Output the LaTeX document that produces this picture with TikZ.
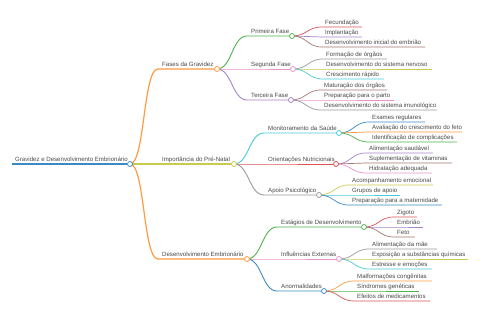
\documentclass[tikz,border=0pt]{standalone}
\usepackage{fontspec}
\setmainfont{Liberation Sans}
\usetikzlibrary{backgrounds}
\definecolor{cBlue}{HTML}{3C8AC4}
\definecolor{cOrange}{HTML}{FF9A40}
\definecolor{cGreen}{HTML}{4DB34D}
\definecolor{cRed}{HTML}{DE5253}
\definecolor{cPurple}{HTML}{A585CA}
\definecolor{cBrown}{HTML}{A3786F}
\definecolor{cPink}{HTML}{E993CE}
\definecolor{cGray}{HTML}{999999}
\definecolor{cOlive}{HTML}{C9CA4E}
\definecolor{cCyan}{HTML}{45CBD9}
\tikzset{
    lbl/.style = {anchor=base west, inner sep=0pt, font=\fontsize{6.1}{7}\selectfont, text=black!72},
    dot/.style = {circle, draw=#1, fill=white, minimum size=5pt, inner sep=0pt, line width=0.8pt},
    curve/.style = {to path={.. controls +(15,0) and +(-15,0) .. (\tikztotarget)}},
    rootline/.style = {draw=#1, line width=1.5pt},
    mainline/.style = {draw=#1, line width=1.2pt},
    subline/.style = {draw=#1, line width=0.9pt},
    leaf/.style = {draw=#1, line width=0.7pt}
}

\begin{document}
\begin{tikzpicture}[x=1pt, y=-1pt]
    \useasboundingbox (0,0) rectangle (480,320);

    % root
    \coordinate (R0) at (12,164);
    \node[dot=cBlue] (R) at (130,164) {};
    \node[lbl] (Rt) at (15,162) {Gravidez e Desenvolvimento Embrionário};

    % first level
    \coordinate (A0) at (158,69);
    \node[dot=cOrange] (A) at (217,69) {};
    \node[lbl] (At) at (162,67) {Fases da Gravidez};
    \coordinate (B0) at (158,164);
    \node[dot=cOlive] (B) at (234,164) {};
    \node[lbl] (Bt) at (162,162) {Importância do Pré-Natal};
    \coordinate (C0) at (158,259);
    \node[dot=cOrange] (C) at (247,259) {};
    \node[lbl] (Ct) at (162,257) {Desenvolvimento Embrionário};

    % second level
    \coordinate (A10) at (247,36);
    \node[dot=cGreen] (A1) at (292,36) {};
    \node[lbl] (A1t) at (251,34) {Primeira Fase};
    \coordinate (A20) at (247,69);
    \node[dot=cPink] (A2) at (293,69) {};
    \node[lbl] (A2t) at (251,67) {Segunda Fase};
    \coordinate (A30) at (247,100);
    \node[dot=cPurple] (A3) at (291,100) {};
    \node[lbl] (A3t) at (251,98) {Terceira Fase};

    \coordinate (B10) at (264,133);
    \node[dot=cCyan] (B1) at (339,133) {};
    \node[lbl] (B1t) at (268,131) {Monitoramento da Saúde};
    \coordinate (B20) at (264,164);
    \node[dot=cRed] (B2) at (336,164) {};
    \node[lbl] (B2t) at (268,162) {Orientações Nutricionais};
    \coordinate (B30) at (264,195);
    \node[dot=cGray] (B3) at (319,195) {};
    \node[lbl] (B3t) at (268,193) {Apoio Psicológico};

    \coordinate (C10) at (277,227);
    \node[dot=cGreen] (C1) at (364,227) {};
    \node[lbl] (C1t) at (281,225) {Estágios de Desenvolvimento};
    \coordinate (C20) at (277,259);
    \node[dot=cPink] (C2) at (339,259) {};
    \node[lbl] (C2t) at (281,257) {Influências Externas};
    \coordinate (C30) at (277,291);
    \node[dot=cBlue] (C3) at (324,291) {};
    \node[lbl] (C3t) at (281,289) {Anormalidades};

    \begin{scope}[on background layer]
        \draw[rootline=cBlue] (R0) -- (R);
        \draw[mainline=cOrange] (R.center) to[curve] (A0) -- (A);
        \draw[mainline=cOlive] (R.center) to[curve] (B0) -- (B);
        \draw[mainline=cOrange] (R.center) to[curve] (C0) -- (C);
        \draw[subline=cGreen] (A.center) to[curve] (A10) -- (A1);
        \draw[subline=cPink] (A.center) to[curve] (A20) -- (A2);
        \draw[subline=cPurple] (A.center) to[curve] (A30) -- (A3);
        \draw[subline=cCyan] (B.center) to[curve] (B10) -- (B1);
        \draw[subline=cRed] (B.center) to[curve] (B20) -- (B2);
        \draw[subline=cGray] (B.center) to[curve] (B30) -- (B3);
        \draw[subline=cGreen] (C.center) to[curve] (C10) -- (C1);
        \draw[subline=cPink] (C.center) to[curve] (C20) -- (C2);
        \draw[subline=cBlue] (C.center) to[curve] (C30) -- (C3);
    \end{scope}

    % leaves
    \foreach \y/\xe/\c/\t [count=\i] in {27/362/cRed/Fecundação, 37/362/cPurple/Implantação, 47/425/cBrown/Desenvolvimento inicial do embrião} {
        \coordinate (A1s\i) at (322,\y);
        \coordinate (A1e\i) at (\xe,\y);
        \node[lbl] (A1t\i) at (325,\y-2) {\t};
        \begin{scope}[on background layer]
            \draw[leaf=\c] (A1.center) to[curve] (A1s\i) -- (A1e\i);
        \end{scope}
    }
    \foreach \y/\xe/\c/\t [count=\i] in {59/387/cGray/Formação de órgãos, 69/432/cOlive/Desenvolvimento do sistema nervoso, 79/384/cCyan/Crescimento rápido} {
        \coordinate (A2s\i) at (323,\y);
        \coordinate (A2e\i) at (\xe,\y);
        \node[lbl] (A2t\i) at (326,\y-2) {\t};
        \begin{scope}[on background layer]
            \draw[leaf=\c] (A2.center) to[curve] (A2s\i) -- (A2e\i);
        \end{scope}
    }
    \foreach \y/\xe/\c/\t [count=\i] in {90/387/cBrown/Maturação dos órgãos, 100/394/cPink/Preparação para o parto, 110/437/cGray/Desenvolvimento do sistema imunológico} {
        \coordinate (A3s\i) at (321,\y);
        \coordinate (A3e\i) at (\xe,\y);
        \node[lbl] (A3t\i) at (324,\y-2) {\t};
        \begin{scope}[on background layer]
            \draw[leaf=\c] (A3.center) to[curve] (A3s\i) -- (A3e\i);
        \end{scope}
    }
    \foreach \y/\xe/\c/\t [count=\i] in {122/425/cBlue/Exames regulares, 132/462/cOrange/Avaliação do crescimento do feto, 142/457/cGreen/Identificação de complicações} {
        \coordinate (B1s\i) at (369,\y);
        \coordinate (B1e\i) at (\xe,\y);
        \node[lbl] (B1t\i) at (372,\y-2) {\t};
        \begin{scope}[on background layer]
            \draw[leaf=\c] (B1.center) to[curve] (B1s\i) -- (B1e\i);
        \end{scope}
    }
    \foreach \y/\xe/\c/\t [count=\i] in {153/433/cPurple/Alimentação saudável, 163/452/cBrown/Suplementação de vitaminas, 173/432/cPink/Hidratação adequada} {
        \coordinate (B2s\i) at (366,\y);
        \coordinate (B2e\i) at (\xe,\y);
        \node[lbl] (B2t\i) at (369,\y-2) {\t};
        \begin{scope}[on background layer]
            \draw[leaf=\c] (B2.center) to[curve] (B2s\i) -- (B2e\i);
        \end{scope}
    }
    \foreach \y/\xe/\c/\t [count=\i] in {185/433/cOlive/Acompanhamento emocional, 195/400/cCyan/Grupos de apoio, 205/442/cBlue/Preparação para a maternidade} {
        \coordinate (B3s\i) at (349,\y);
        \coordinate (B3e\i) at (\xe,\y);
        \node[lbl] (B3t\i) at (352,\y-2) {\t};
        \begin{scope}[on background layer]
            \draw[leaf=\c] (B3.center) to[curve] (B3s\i) -- (B3e\i);
        \end{scope}
    }
    \foreach \y/\xe/\c/\t [count=\i] in {217/417/cRed/Zigoto, 227/423/cPurple/Embrião, 237/415/cBrown/Feto} {
        \coordinate (C1s\i) at (394,\y);
        \coordinate (C1e\i) at (\xe,\y);
        \node[lbl] (C1t\i) at (397,\y-2) {\t};
        \begin{scope}[on background layer]
            \draw[leaf=\c] (C1.center) to[curve] (C1s\i) -- (C1e\i);
        \end{scope}
    }
    \foreach \y/\xe/\c/\t [count=\i] in {249/437/cGray/Alimentação da mãe, 259/468/cOlive/Exposição a substâncias químicas, 269/432/cCyan/Estresse e emoções} {
        \coordinate (C2s\i) at (369,\y);
        \coordinate (C2e\i) at (\xe,\y);
        \node[lbl] (C2t\i) at (372,\y-2) {\t};
        \begin{scope}[on background layer]
            \draw[leaf=\c] (C2.center) to[curve] (C2s\i) -- (C2e\i);
        \end{scope}
    }
    \foreach \y/\xe/\c/\t [count=\i] in {281/432/cOrange/Malformações congênitas, 291/419/cGreen/Síndromes genéticas, 301/430/cRed/Efeitos de medicamentos} {
        \coordinate (C3s\i) at (354,\y);
        \coordinate (C3e\i) at (\xe,\y);
        \node[lbl] (C3t\i) at (357,\y-2) {\t};
        \begin{scope}[on background layer]
            \draw[leaf=\c] (C3.center) to[curve] (C3s\i) -- (C3e\i);
        \end{scope}
    }
\end{tikzpicture}
\end{document}
